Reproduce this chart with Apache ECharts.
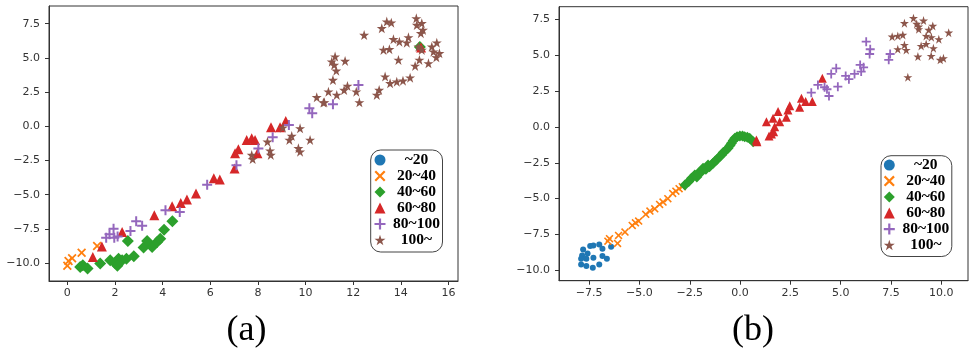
<!DOCTYPE html>
<html>
<head>
<meta charset="utf-8">
<script src="https://cdn.jsdelivr.net/npm/echarts@6/dist/echarts.min.js"></script>
<style>
  html, body { margin: 0; padding: 0; background: #fff; }
  #chart { width: 972px; height: 351px; }
</style>
</head>
<body>
<div id="chart"></div>
<script>
// legend names and matplotlib tab10 colours
var NAMES = ['~20', '20~40', '40~60', '60~80', '80~100', '100~'];
var COLORS = ['#1f77b4', '#ff7f0e', '#2ca02c', '#d62728', '#9467bd', '#8c564b'];

// tick values
var xTicksA = [0, 2, 4, 6, 8, 10, 12, 14, 16];
var xTicksB = [-7.5, -5.0, -2.5, 0.0, 2.5, 5.0, 7.5, 10.0];
var yTicks = [-10.0, -7.5, -5.0, -2.5, 0.0, 2.5, 5.0, 7.5];

// (a) points
var aBlue = [];
var aOrange = [[0.0,-10.2],[0.05,-9.85],[0.2,-9.65],[0.6,-9.25],[1.25,-8.75]];
var aGreen = [[0.54,-10.29],[0.85,-10.4],[0.65,-10.15],[1.38,-10.04],[1.8,-9.8],[2.0,-10.0],[2.15,-9.68],
  [2.3,-9.8],[2.1,-10.2],[2.48,-9.68],[2.54,-8.39],[2.79,-9.5],[3.2,-8.87],[3.35,-8.39],[3.56,-8.83],
  [3.77,-8.46],[3.9,-8.22],[4.06,-7.56],[4.41,-6.95],[14.8,5.8]];
var aRed = [[1.07,-9.56],[1.45,-8.78],[2.3,-7.73],[3.65,-6.5],[4.4,-5.85],[4.76,-5.6],[5.02,-5.35],[5.4,-4.92],
  [6.15,-3.8],[6.4,-3.9],[7.02,-3.08],[7.04,-1.97],[7.18,-1.68],[7.53,-1.0],[7.74,-0.88],[7.88,-1.0],
  [7.98,-1.97],[8.55,-0.07],[8.93,-0.07],[9.17,0.39],[14.85,5.75]];
var aPurple = [[1.63,-8.14],[1.77,-7.9],[1.94,-7.49],[1.97,-8.14],[2.11,-8.05],[2.65,-7.66],[2.89,-6.95],
  [3.14,-7.27],[4.12,-6.14],[4.72,-6.26],[5.87,-4.28],[7.1,-2.85],[8.02,-1.63],[8.62,-0.8],[9.3,0.1],
  [10.16,1.32],[10.28,0.95],[11.15,1.61],[12.22,3.02]];
var aBrown = [[14.65,7.89],[14.67,7.4],[14.88,7.53],[14.93,7.04],[14.84,6.8],[13.41,7.65],[13.6,7.57],
  [13.2,7.16],[12.46,6.67],[13.69,6.36],[13.94,6.18],[14.32,6.5],[14.25,6.11],[13.27,5.58],[13.52,5.63],
  [14.74,5.82],[14.88,5.58],[15.3,5.82],[15.51,6.11],[15.37,5.45],[15.62,5.34],[15.49,5.04],[13.9,4.85],
  [14.78,4.85],[14.6,4.41],[15.16,4.6],[13.34,3.63],[13.55,3.14],[13.83,3.26],[14.09,3.33],[14.39,3.55],
  [13.09,2.65],[12.99,2.29],[11.24,5.09],[11.1,4.72],[11.2,4.48],[11.66,4.77],[11.29,4.06],[11.15,3.38],
  [11.76,2.95],[11.62,2.65],[10.96,2.53],[11.31,2.29],[10.47,2.12],[10.79,1.75],[12.13,2.53],[12.26,1.75],
  [9.77,-0.15],[9.42,-0.71],[9.32,-1.0],[10.19,-1.0],[9.7,-1.61],[9.77,-1.86],[8.51,-1.78],[8.54,-2.1],
  [8.4,-1.13],[7.74,-2.1],[7.78,-2.4],[9.05,-0.1],[10.75,1.73]];

// (b) points
var bBlue = [[-7.8,-8.55],[-7.85,-8.97],[-7.9,-9.2],[-7.9,-9.6],[-7.64,-9.71],[-7.32,-9.83],[-7.45,-8.31],
  [-7.29,-8.27],[-7.0,-8.2],[-6.84,-8.5],[-6.84,-9.01],[-6.62,-9.2],[-6.41,-8.36],[-7.0,-9.6],[-7.64,-9.2],
  [-7.29,-9.13],[-7.58,-8.83]];
var bOrange = [[-6.57,-7.97],[-6.49,-7.8],[-6.09,-8.13],[-6.04,-7.57],[-5.72,-7.34],[-5.36,-6.87],[-5.2,-6.69],
  [-5.04,-6.57],[-4.69,-6.1],[-4.48,-5.87],[-4.24,-5.71],[-4.0,-5.41],[-3.83,-5.24],[-3.59,-5.01],
  [-3.35,-4.64],[-3.19,-4.48],[-3.03,-4.31],[-2.87,-4.17]];
var bGreen = [[-2.74,-4.05],[-2.55,-3.8],[-2.41,-3.58],[-2.25,-3.35],[-2.15,-3.5],[-2.08,-3.23],[-1.92,-3.12],
  [-1.84,-2.88],[-1.7,-2.95],[-1.59,-2.65],[-1.52,-2.77],[-1.34,-2.53],[-1.25,-2.4],[-1.17,-2.3],[-1.01,-2.07],
  [-0.92,-1.95],[-0.84,-1.79],[-0.71,-1.65],[-0.6,-1.49],[-0.5,-1.3],[-0.43,-1.14],[-0.34,-0.95],[-0.26,-0.79],
  [-0.15,-0.68],[-0.01,-0.63],[0.12,-0.63],[0.23,-0.68],[0.36,-0.72],[0.48,-0.79],[0.65,-1.03]];
var bRed = [[0.81,-0.91],[0.84,-1.03],[1.44,-0.63],[1.56,-0.49],[1.67,-0.33],[1.72,0.02],[1.31,0.37],[1.64,0.6],
  [1.89,1.07],[1.97,0.37],[2.3,0.68],[2.38,1.19],[2.47,1.47],[2.96,1.37],[3.05,2.0],[3.26,1.77],
  [3.59,1.77],[4.09,3.4]];
var bPurple = [[3.54,2.39],[3.87,2.93],[4.2,2.77],[4.32,2.63],[4.42,2.16],[4.53,3.7],[4.78,4.09],[4.86,2.81],
  [5.25,3.56],[5.41,3.33],[5.69,3.7],[6.02,3.86],[5.97,4.33],[6.14,4.16],[6.27,5.95],[6.47,5.42],
  [6.44,5.09],[7.46,5.09],[7.39,4.68]];
var bBrown = [[8.62,7.59],[8.78,7.19],[8.88,7.0],[9.12,7.42],[8.17,7.24],[9.38,6.77],[9.58,7.05],[9.25,6.35],
  [9.51,6.26],[9.88,6.12],[10.37,6.58],[7.56,6.3],[7.84,6.35],[8.09,6.42],[8.17,5.72],[7.84,5.42],
  [8.26,5.37],[9.0,5.65],[9.25,5.79],[9.61,5.49],[9.5,4.95],[8.84,4.91],[9.95,4.68],[10.11,4.79],
  [8.34,3.47],[8.88,6.82]];

var X_PATH = 'path://M0,1.4L1.4,0L5,3.6L8.6,0L10,1.4L6.4,5L10,8.6L8.6,10L5,6.4L1.4,10L0,8.6L3.6,5Z';
var PLUS_PATH = 'path://M4,0H6V4H10V6H6V10H4V6H0V4H4Z';
var STAR_PATH = 'path://M50,0L61.2,34.6L97.6,34.5L68.1,55.9L79.4,90.5L50,69L20.6,90.5L31.9,55.9L2.4,34.5L38.8,34.6Z';
var SYMBOLS = ['circle', X_PATH, 'diamond', 'triangle', PLUS_PATH, STAR_PATH];

var setsA = [aBlue, aOrange, aGreen, aRed, aPurple, aBrown];
var setsB = [bBlue, bOrange, bGreen, bRed, bPurple, bBrown];
var sizesA = [7, 9, 12, 10, 10, 10];
var sizesB = [6, 8, 11, 9, 9, 9];

function fmt1(v) { return v.toFixed(1).replace('-', '\u2212'); }
function fmt0(v) { return String(v).replace('-', '\u2212'); }

function makeX(idx, min, max, ticks, f) {
  return {
    type: 'value', gridIndex: idx, min: min, max: max,
    splitLine: { show: false },
    axisLine: { show: true, onZero: false, lineStyle: { color: '#333' } },
    axisTick: { show: true, length: 4, customValues: ticks, lineStyle: { color: '#333' } },
    axisLabel: { customValues: ticks, formatter: f, fontSize: 11, fontFamily: 'DejaVu Sans', color: '#333', margin: 7 }
  };
}
function makeY(idx, min, max) {
  return {
    type: 'value', gridIndex: idx, min: min, max: max,
    splitLine: { show: false },
    axisLine: { show: true, onZero: false, lineStyle: { color: '#333' } },
    axisTick: { show: true, length: 4, customValues: yTicks, lineStyle: { color: '#333' } },
    axisLabel: { customValues: yTicks, formatter: fmt1, fontSize: 11, fontFamily: 'DejaVu Sans', color: '#333', margin: 9 }
  };
}
function makeLegend(left, top, lh, pad) {
  return {
    orient: 'vertical', left: left, top: top, data: NAMES, selectedMode: false,
    itemWidth: 11, itemHeight: 11, itemGap: 0, padding: pad,
    borderColor: '#444', borderWidth: 1, borderRadius: 10, backgroundColor: '#fff',
    formatter: '{c|{name}}',
    textStyle: { rich: { c: { width: 52, align: 'center', fontFamily: 'Liberation Serif', fontWeight: 'bold',
      fontSize: 15.5, lineHeight: lh, color: '#000' } } }
  };
}

var series = [];
[setsA, setsB].forEach(function (sets, g) {
  sets.forEach(function (d, i) {
    series.push({
      type: 'scatter', name: NAMES[i], xAxisIndex: g, yAxisIndex: g,
      data: d, symbol: SYMBOLS[i], symbolSize: (g ? sizesB : sizesA)[i],
      itemStyle: { color: COLORS[i], opacity: 1 },
      emphasis: { disabled: true }, animation: false
    });
  });
});

var chart = echarts.init(document.getElementById('chart'));
chart.setOption({
  backgroundColor: '#fff',
  animation: false,
  grid: [
    { left: 49, top: 6, width: 409, height: 275, show: true, borderColor: '#333', borderWidth: 1 },
    { left: 559, top: 6.7, width: 409, height: 274, show: true, borderColor: '#333', borderWidth: 1 }
  ],
  xAxis: [makeX(0, -0.77, 16.40, xTicksA, fmt0), makeX(1, -9.0, 11.33, xTicksB, fmt1)],
  yAxis: [makeY(0, -11.31, 8.79), makeY(1, -10.73, 8.39)],
  legend: [makeLegend(370.7, 150, 17.5, [2, 0, 4, 3.8]), makeLegend(881, 155.7, 17.8, [1.4, 0, 3.4, 2.8])],
  graphic: [
    { type: 'text', x: 246.5, y: 331, style: { text: '(a)', font: '36px "Liberation Serif"', fill: '#000',
      align: 'center', verticalAlign: 'middle', textAlign: 'center', textVerticalAlign: 'middle' } },
    { type: 'text', x: 753, y: 331, style: { text: '(b)', font: '36px "Liberation Serif"', fill: '#000',
      align: 'center', verticalAlign: 'middle', textAlign: 'center', textVerticalAlign: 'middle' } }
  ],
  series: series
});
</script>
</body>
</html>
